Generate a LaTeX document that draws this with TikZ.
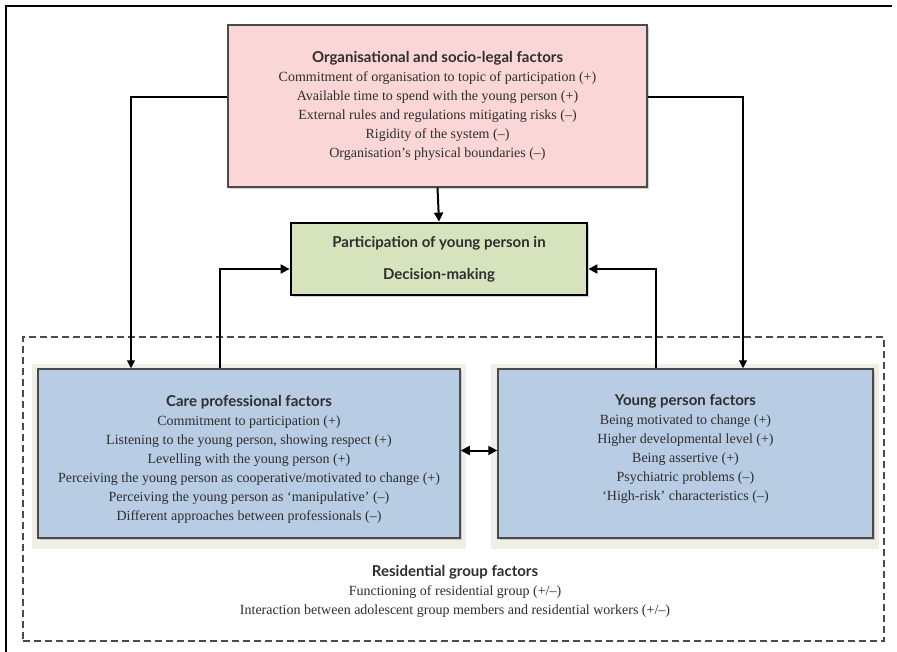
\documentclass[tikz,border=0pt]{standalone}
\usepackage{fontspec}
\setmainfont{Liberation Serif}
\newfontfamily\headfont{Lato}
\usetikzlibrary{arrows.meta,positioning,shadows,backgrounds}
\definecolor{orgpink}{HTML}{FAD6D6}
\definecolor{decgreen}{HTML}{D6E3BC}
\definecolor{factblue}{HTML}{B8CCE4}
\definecolor{backbeige}{HTML}{F0EFE7}
\definecolor{boxgrey}{HTML}{4A4A4A}
\definecolor{textgrey}{HTML}{2E2E2E}
\newcommand{\hd}[1]{{\headfont\bfseries\fontsize{15}{19}\selectfont #1}}

\begin{document}
\begin{tikzpicture}[x=1pt,y=-1pt,
   font=\fontsize{14}{19}\selectfont, text=textgrey,
   factor/.style={draw=boxgrey,line width=1.5pt,align=center,inner sep=0pt,
      drop shadow={shadow xshift=2pt,shadow yshift=-2pt,opacity=.35}},
   conn/.style={line width=1.2pt,-{Triangle[length=8pt,width=8pt]}},
   thick conn/.style={line width=2pt,-{Triangle[length=9pt,width=9pt]}}]
   \useasboundingbox (0,0) rectangle (897,652);
   \draw[line width=1.2pt] (892,6) -- (6,6) -- (6,652);

   % group frame and its two factor boxes
   \node[draw=boxgrey,line width=1.4pt,dash pattern=on 7pt off 4pt,
         minimum width=861pt,minimum height=304pt] (group) at (453.5,489) {};
   \node[factor,fill=factblue,minimum width=422pt,minimum height=169pt] (care) at (249,453.5)
      {\hd{Care professional factors}\\
       Commitment to participation (+)\\
       Listening to the young person, showing respect (+)\\
       Levelling with the young person (+)\\
       Perceiving the young person as cooperative/motivated to change (+)\\
       Perceiving the young person as ‘manipulative’ (--)\\
       Different approaches between professionals (--)\\[-28pt]};
   \node[factor,fill=factblue,minimum width=375pt,minimum height=169pt] (young) at (685.5,453.5)
      {\hd{Young person factors}\\
       Being motivated to change (+)\\
       Higher developmental level (+)\\
       Being assertive (+)\\
       Psychiatric problems (--)\\
       ‘High-risk’ characteristics (--)\\[-7pt]};
   \begin{scope}[on background layer]
   \fill[white] (0,0) rectangle (897,652);
   \fill[backbeige] ([shift={(-5pt,4pt)}]care.north west) rectangle ([shift={(5pt,-10pt)}]care.south east);
   \fill[backbeige] ([shift={(-6pt,4pt)}]young.north west) rectangle ([shift={(5pt,-10pt)}]young.south east);
   \end{scope}
   \node[align=center] (resid) at (455,591) {\hd{Residential group factors}\\
       Functioning of residential group (+/--)\\
       Interaction between adolescent group members and residential workers (+/--)};

   % organisation and decision boxes
   \node[factor,fill=orgpink,minimum width=419pt,minimum height=162pt] (org) at (437.5,106)
      {\hd{Organisational and socio-legal factors}\\
       Commitment of organisation to topic of participation (+)\\
       Available time to spend with the young person (+)\\
       External rules and regulations mitigating risks (--)\\
       Rigidity of the system (--)\\
       Organisation’s physical boundaries (--)};
   \node[factor,draw=black,line width=2.8pt,fill=decgreen,minimum width=296pt,minimum height=72pt,
         font=\headfont\bfseries\fontsize{15}{19}\selectfont] (decision) at (439,259)
      {Participation of young person in\\[13pt]Decision-making};

   \draw[conn] ([yshift=9pt]org.west) -| ([xshift=-118pt]care.north);
   \draw[conn] ([yshift=9pt]org.east) -| ([xshift=57.5pt]young.north);
   \draw[thick conn] (org.south) -- (decision.north);
   \draw[thick conn] ([xshift=-29pt]care.north) |- ([yshift=-10pt]decision.west);
   \draw[thick conn] ([xshift=-29.5pt]young.north) |- ([yshift=-10pt]decision.east);
   \draw[thick conn,{Triangle[length=9pt,width=9pt]}-{Triangle[length=9pt,width=9pt]}]
      ([yshift=3pt]care.east) -- ([yshift=3pt]young.west);
\end{tikzpicture}
\end{document}
